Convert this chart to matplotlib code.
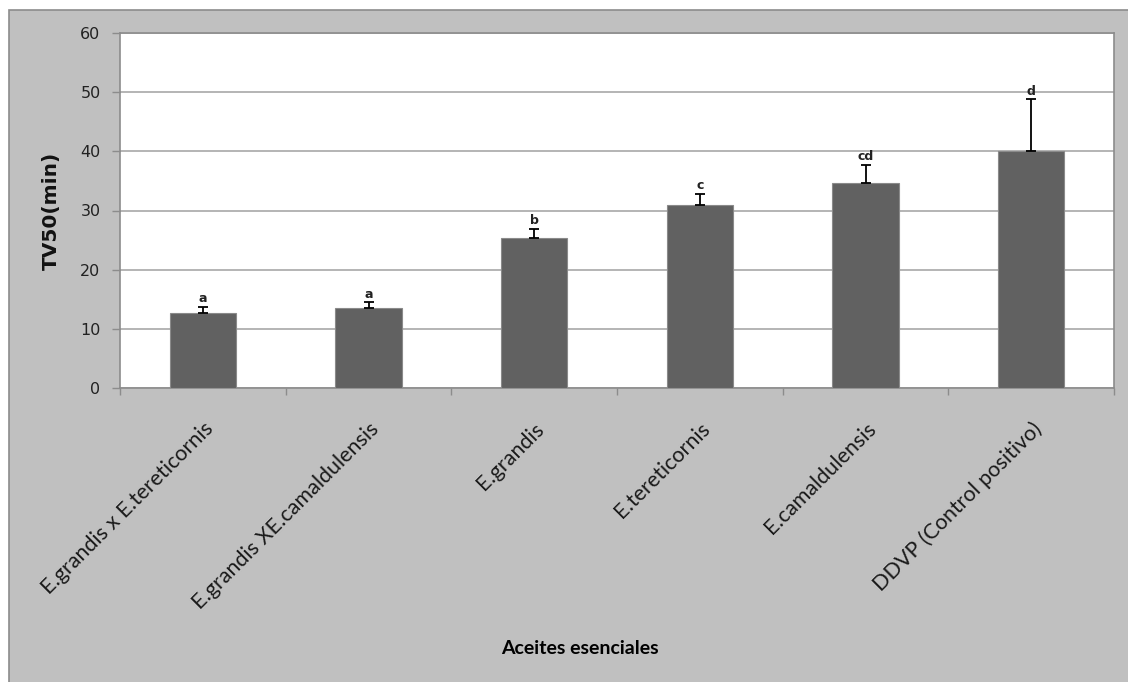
import matplotlib
matplotlib.use("Agg")
import matplotlib.pyplot as plt
from matplotlib.patches import Rectangle
from matplotlib.transforms import ScaledTranslation
import numpy as np

categories = [
    "E.grandis x E.tereticornis",
    "E.grandis XE.camaldulensis",
    "E.grandis",
    "E.tereticornis",
    "E.camaldulensis",
    "DDVP (Control positivo)",
]
tv50 = [12.7, 13.5, 25.4, 31.0, 34.7, 40.0]
err_up = [1.0, 1.0, 1.5, 1.8, 3.0, 8.8]
groups = ["a", "a", "b", "c", "cd", "d"]
yticks = [0, 10, 20, 30, 40, 50, 60]

W, H = 1128, 682
fig = plt.figure(figsize=(W / 100, H / 100), dpi=100)
fig.patch.set_facecolor("white")

# grey chart area with thin border, kept behind the axes
fig.patches.append(Rectangle((9 / W, -0.01), 1.02, 1 - 10 / H + 0.01,
                             transform=fig.transFigure, facecolor="#c0c0c0",
                             edgecolor="#8c8c8c", linewidth=1.2, zorder=-10))

ax = fig.add_axes([120 / W, 1 - 388 / H, (1114 - 120) / W, (388 - 33) / H])
ax.set_facecolor("white")

x = np.arange(len(categories))
ax.bar(x, tv50, width=0.4, color="#616161", edgecolor="#8a8a8a",
       linewidth=0.8, zorder=3)
ax.errorbar(x, tv50, yerr=[np.zeros(len(x)), err_up], fmt="none",
            ecolor="black", elinewidth=1.3, capsize=3.4, capthick=1.3,
            zorder=4)
for xi, v, e, g in zip(x, tv50, err_up, groups):
    ax.text(xi, v + e + 0.25, g, ha="center", va="bottom",
            fontsize=9, fontweight="bold", family="DejaVu Sans",
            color="#222222", zorder=5)

ax.set_xlim(-0.5, len(categories) - 0.5)
ax.set_ylim(0, 60)
ax.set_yticks(yticks)
ax.yaxis.grid(True, color="#a0a0a0", linewidth=1.1, zorder=1)
ax.set_axisbelow(True)

ax.set_xticks(x)
ax.set_xticklabels(categories, rotation=45, ha="right",
                   rotation_mode="anchor", fontsize=15.5, family="Lato",
                   color="#1a1a1a")
shift = ScaledTranslation(-5 / 72, 0, fig.dpi_scale_trans)
for lbl in ax.get_xticklabels():
    lbl.set_transform(lbl.get_transform() + shift)
ax.set_xticks(np.arange(len(categories) + 1) - 0.5, minor=True)
ax.tick_params(axis="x", which="major", length=0, pad=22)
ax.tick_params(axis="x", which="minor", length=5, color="#8c8c8c",
               width=1)
ax.tick_params(axis="y", length=6, color="#8c8c8c", width=1, pad=8,
               labelsize=11.5, labelcolor="#222222")
for lbl in ax.get_yticklabels():
    lbl.set_family("DejaVu Sans")

for side in ["left", "bottom", "top", "right"]:
    ax.spines[side].set_color("#8c8c8c")
    ax.spines[side].set_linewidth(1.2)

fig.text(51 / W, 1 - 211 / H, "TV50(min)", rotation=90, ha="center",
         va="center", fontsize=14.5, fontweight="bold", family="DejaVu Sans",
         color="#111111")
fig.text(580 / W, 1 - 648 / H, "Aceites esenciales", ha="center",
         va="center", fontsize=14, fontweight="bold", family="Lato",
         color="black")

fig.savefig("out.png", dpi=100, facecolor=fig.get_facecolor())
